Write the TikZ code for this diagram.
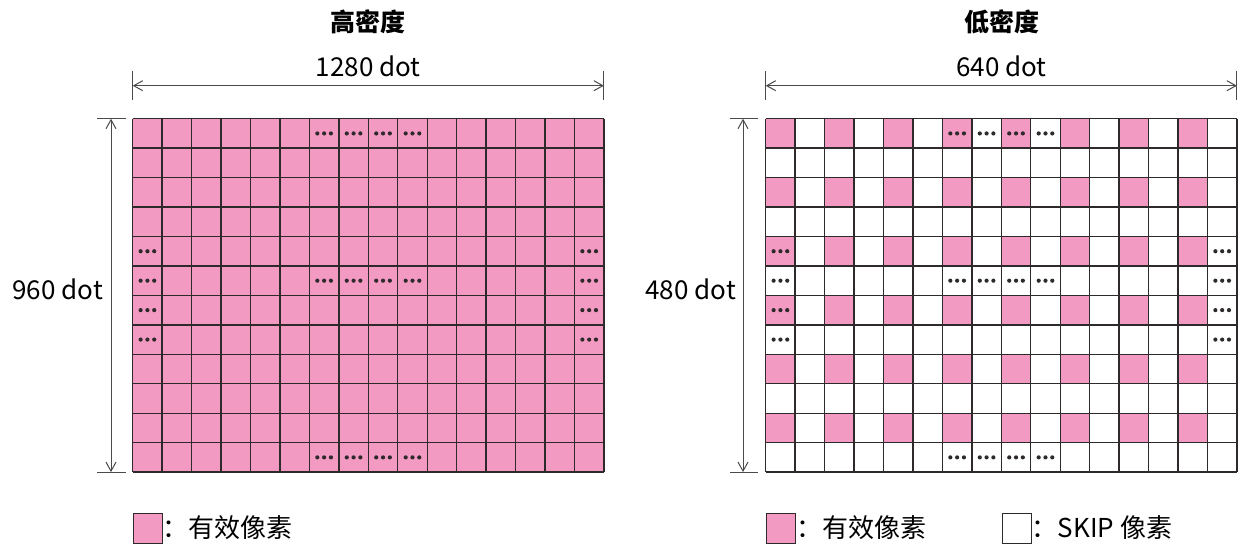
\documentclass[tikz,border=0pt]{standalone}
\usepackage{fontspec}
\setmainfont{Noto Sans CJK SC}
\usetikzlibrary{arrows.meta}
\definecolor{pk}{HTML}{F39AC2}
\definecolor{ln}{HTML}{2E2A2B}
\definecolor{dm}{HTML}{4A4A4A}
\newcommand\celldots[2]{\foreach \k in {-1,0,1} \fill[ln] ({(#1+0.5)*29.45+\k*6.8},{(#2+0.5)*29.45}) circle (2.1);}
\begin{document}
\begin{tikzpicture}[x=1pt,y=-1pt,
  gridline/.style={draw=ln,line width=1.4pt},
  dimline/.style={draw=dm,line width=1pt},
  dimarrow/.style={dimline,{Straight Barb[length=9pt,width=10pt]}-{Straight Barb[length=9pt,width=10pt]}},
  lbl/.style={font=\fontsize{26}{30}\selectfont,inner sep=0pt},
  ttl/.style={font=\fontsize{25}{30}\selectfont\bfseries,inner sep=0pt},
  legbox/.style={draw=ln,line width=1pt},
  ]
\useasboundingbox (0,0) rectangle (1240,544);

% ---------- left grid (high density) ----------
\begin{scope}[shift={(132.7,118.7)}]
  \coordinate (Ltl) at (0,0);
  \coordinate (Ltr) at (471.2,0);
  \coordinate (Lbl) at (0,353.4);
  \fill[pk] (0,0) rectangle (471.2,353.4);
  \foreach \i in {0,...,16} \draw[gridline] (\i*29.45,0) -- (\i*29.45,353.4);
  \foreach \j in {0,...,12} \draw[gridline] (0,\j*29.45) -- (471.2,\j*29.45);
  \foreach \c in {6,...,9} {\celldots{\c}{0}\celldots{\c}{5}\celldots{\c}{11}}
  \foreach \r in {4,...,7} {\celldots{0}{\r}\celldots{15}{\r}}
\end{scope}

% ---------- right grid (low density) ----------
\begin{scope}[shift={(765.7,118.7)}]
  \coordinate (Rtl) at (0,0);
  \coordinate (Rtr) at (471.2,0);
  \coordinate (Rbl) at (0,353.4);
  \foreach \i in {0,2,...,14} \foreach \j in {0,2,...,10}
    \fill[pk] (\i*29.45,\j*29.45) rectangle ++(29.45,29.45);
  \foreach \i in {0,...,16} \draw[gridline] (\i*29.45,0) -- (\i*29.45,353.4);
  \foreach \j in {0,...,12} \draw[gridline] (0,\j*29.45) -- (471.2,\j*29.45);
  \foreach \c in {6,...,9} {\celldots{\c}{0}\celldots{\c}{5}\celldots{\c}{11}}
  \foreach \r in {4,...,7} {\celldots{0}{\r}\celldots{15}{\r}}
\end{scope}

% ---------- titles ----------
\node[ttl] (t1) at (368.3,22) {高密度};
\node[ttl] (t2) at (1001.5,22) {低密度};

% ---------- horizontal dimensions ----------
\coordinate (LhA) at (132.7,85.7);
\coordinate (LhB) at (603.9,85.7);
\draw[dimline] (132.7,71) -- (132.7,100);
\draw[dimline] (603.9,71) -- (603.9,100);
\draw[dimarrow] (LhA) -- (LhB);
\node[lbl] (w1) at (368.3,66) {1280 dot};

\coordinate (RhA) at (765.7,85.7);
\coordinate (RhB) at (1236.9,85.7);
\draw[dimline] (765.7,71) -- (765.7,100);
\draw[dimline] (1236.9,71) -- (1236.9,100);
\draw[dimarrow] (RhA) -- (RhB);
\node[lbl] (w2) at (1001.5,66) {640 dot};

% ---------- vertical dimensions ----------
\coordinate (LvA) at (111,118.7);
\coordinate (LvB) at (111,472.1);
\draw[dimline] (97,118.7) -- (126,118.7);
\draw[dimline] (97,472.1) -- (126,472.1);
\draw[dimarrow] (LvA) -- (LvB);
\node[lbl,anchor=east] (h1) at (103,289) {960 dot};

\coordinate (RvA) at (743,118.7);
\coordinate (RvB) at (743,472.1);
\draw[dimline] (730,118.7) -- (758,118.7);
\draw[dimline] (730,472.1) -- (758,472.1);
\draw[dimarrow] (RvA) -- (RvB);
\node[lbl,anchor=east] (h2) at (736,289) {480 dot};

% ---------- legends ----------
\node[legbox,fill=pk,minimum width=29pt,minimum height=30pt,inner sep=0pt,anchor=north west] (k1) at (132.7,512.5) {};
\node[lbl,anchor=west] (k1t) at (k1.east) {：有效像素};
\node[legbox,fill=pk,minimum width=29pt,minimum height=30pt,inner sep=0pt,anchor=north west] (k2) at (766,512.5) {};
\node[lbl,anchor=west] (k2t) at (k2.east) {：有效像素};
\node[legbox,fill=white,minimum width=29pt,minimum height=30pt,inner sep=0pt,anchor=north west] (k3) at (1001.7,512.5) {};
\node[lbl,anchor=west] (k3t) at (k3.east) {：SKIP 像素};
\end{tikzpicture}
\end{document}
